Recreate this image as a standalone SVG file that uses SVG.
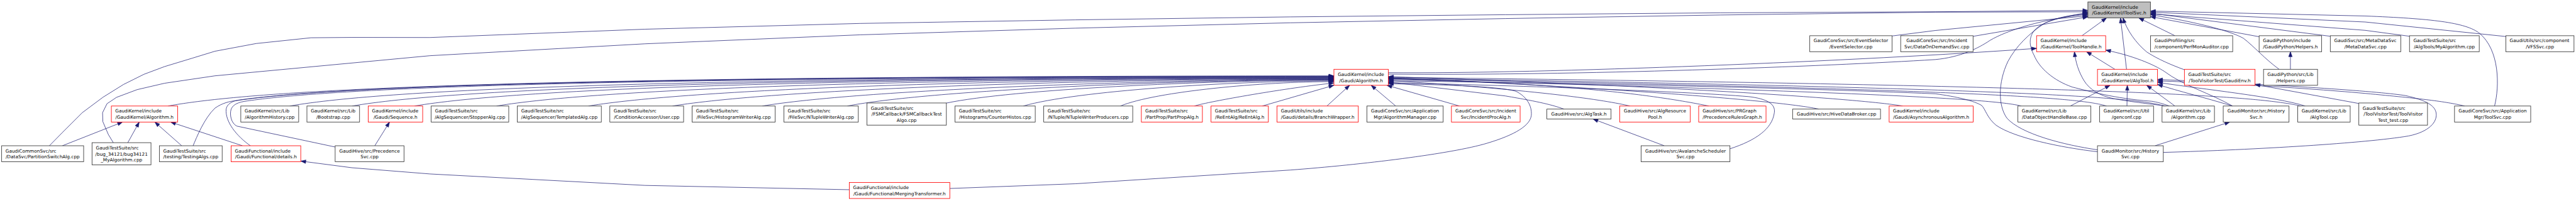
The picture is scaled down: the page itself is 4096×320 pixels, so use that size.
<svg xmlns="http://www.w3.org/2000/svg" width="4096" height="320" viewBox="0 0 4096 320">
<defs>
<style>
.e path{fill:none;stroke:#191970;stroke-width:1.3;stroke-linejoin:round;marker-end:url(#ah)}
.n rect{fill:#fff;stroke:#333;stroke-width:1.5}
.n.r rect{stroke:#f00}
.n.g rect{fill:#bfbfbf}
text{font-family:"DejaVu Sans","Liberation Sans",sans-serif;font-size:12.9px;fill:#000}
.m{text-anchor:middle}
</style>
<marker id="ah" markerUnits="userSpaceOnUse" markerWidth="15" markerHeight="11" refX="14" refY="5" orient="auto" overflow="visible">
<path d="M0,0 L14,5 L0,10 Z" fill="#191970" stroke="#191970" stroke-width="1"/>
</marker>
</defs>
<rect width="4096" height="320" fill="#fff"/>
<g transform="scale(0.56984)">
<g id="edges" class="e">
<path d="M174.1,407.2 L342,341"/>
<path d="M356.6,398.6 L388.5,341"/>
<path d="M507,407.2 L432,341"/>
<path d="M676.5,407.2 L476,341"/>
<path d="M137.8,407.2 L172.2,372.1 L229.6,314.8 L287,271.9 L344.4,236.1 L401.8,207.5 L459.2,186 L535.7,162.8 L600,143.1 L714.8,121.6 L867.9,105.5 L982.7,104.5 L1200,104.8 L1800,81.6 L2400,65.5 L3000,55.5 L3600,47.2 L4200,41.1 L4800,35.8 L5400,32.9 L5826,29"/>
<path d="M316.1,398.6 L302.3,375.7 L287,339.9 L286.2,314.8 L298.5,289.8 L325.3,271.9 L382.7,250.4 L459.2,232.6 L600,211.8 L1200,155.6 L1800,122.4 L2400,97.3 L3000,78.7 L3600,63.7 L4200,51.9 L4800,41.9 L5400,34 L5826,33"/>
<path d="M3874,207 C4400,212 5100,185 5400,166.4 C5470,160 5520,135 5553,112.7 C5600,85 5700,52 5826,40"/>
<path d="M3874,203 C4300,207 5200,170 5682.8,135.2"/>
<path d="M5279.5,100.5 L5400,85.2 L5826,44"/>
<path d="M5505.6,101.5 L5826,47"/>
<path d="M5809.4,99.8 L5878,50.1"/>
<path d="M5933.8,193.6 L5917,50.1"/>
<path d="M6095.7,195 C6060,182 6020,165 5990,145 C5960,120 5935,85 5924,50.1"/>
<path d="M6068.9,99.8 L5968,50.1"/>
<path d="M6304.2,102.7 L6000.5,46.5"/>
<path d="M6359.7,193.6 C6320,165 6290,130 6260,107 C6230,90 6150,65 6000.5,41"/>
<path d="M6502.4,101.3 L6000.5,37"/>
<path d="M6723.7,101.3 L6600,84.8 L6000.5,38.5"/>
<path d="M6992.2,102 L6600,61.5 L6000.5,34"/>
<path d="M6960.7,296.2 C6975,240 6975,140 6918.7,93 C6880,62 6780,52 6600,44.7 L6000.5,31"/>
<path d="M5852.7,418.6 C5760,405 5640,375 5600,330 C5575,295 5575,230 5602.8,171.7 C5625,130 5660,95 5706,64.4 C5740,48 5780,42 5826,38.5"/>
<path d="M6053.6,296.2 C6030,288 6010,283 6000,282.6 C5900,275 5830,255 5782.7,243.3 C5730,225 5690,190 5675.5,153.8 C5660,125 5662,100 5679.3,82.3 C5700,60 5760,45 5826,35.5"/>
<path d="M6045,296.2 C6010,292 5950,285 5897.5,275.5 C5860,268 5830,250 5815,225 C5800,200 5792,175 5788.4,144.5"/>
<path d="M6068.9,296.2 L5990,238.3"/>
<path d="M6040,296.2 C5950,270 5600,246 3874,218"/>
<path d="M5776.9,296.2 L5888,238.3"/>
<path d="M5640,296.2 C5580,280 5300,258 3874,222"/>
<path d="M5935,296.2 L5936,238.3"/>
<path d="M5878.3,296.2 C5800,272 5500,250 3874,220"/>
<path d="M6229.6,296.2 C6150,272 6080,255 6020.3,236"/>
<path d="M6432.5,296.2 C6350,270 6150,250 6020.3,230"/>
<path d="M6877.5,296.2 C6820,283 6760,276 6600,261 C6400,243 6150,230 6020.3,226"/>
<path d="M6036.4,425.8 C6300,418 6600,400 6720,380 C6780,368 6800,340 6798,318 C6796,295 6770,280 6712,267 C6650,257 6400,238 6020.3,222"/>
<path d="M5852.7,424 C5750,412 5620,385 5570,350 C5545,330 5540,305 5530,295 C5510,282 5460,270 5400,262 C5000,245 4400,232 3874,226"/>
<path d="M6013.4,407.2 L6222,341"/>
<path d="M6229.6,296.2 C6170,262 6090,238 6040,200 C6010,180 5950,155 5875.6,140"/>
<path d="M5901.3,193.6 L5822,144.5"/>
<path d="M6582,289.1 L6292.4,236"/>
<path d="M6391.1,193.6 L6391.1,144.5"/>
<path d="M4643.9,407.2 L4445,332.4"/>
<path d="M1045.8,407.2 L1087,341"/>
<path d="M2369.8,530 L1800,518 L1200,486 L982.7,468.7 L839.2,450"/>
<path d="M2650.3,526.6 L3000,513.4 L3600,475.1 C3800,460 4050,430 4150,400 C4230,376 4270,350 4273,322 C4275,295 4260,270 4230,255 C4180,240 4000,236 3874,234"/>
<path d="M4827.2,415.7 C4900,392 4945,360 4951,315 C4955,290 4930,276 4880,270 C4700,255 4200,238 3874,231"/>
<path d="M4072.6,296.2 L3870,238.3"/>
<path d="M3894.6,296.2 L3826,238.3"/>
<path d="M3702.6,296.2 L3766,238.3"/>
<path d="M4364.5,304.8 C4330,293 4300,285 4200,268 L3874,229"/>
<path d="M4548.2,296.2 C4480,280 4300,252 3874,225"/>
<path d="M4768.2,296.2 C4650,272 4400,232 3874,220"/>
<path d="M5075.5,304.8 C5010,290 4700,255 3874,217"/>
<path d="M5308.9,296.2 C5250,285 4900,250 3874,214"/>
<path d="M6420,296.2 C6300,268 5900,240 3874,216"/>
<path d="M468.8,296.2 C743.8,245.7 1568.8,212 3722,212"/>
<path d="M538.8,407.2 C548,385 570,330 600,302 C620,288 640,283 660,281 C935,240.2 1760,213 3722,213"/>
<path d="M698.7,407.2 C660,380 628,340 631,305 C633,290 650,281 670,279 C945,240 1770,214 3722,214"/>
<path d="M935.2,410.7 L661.2,352.4 C645,345 640,320 645,305 C650,292 665,285 690,282 C965,241.8 1790,215 3722,215"/>
<path d="M808.5,296.2 C1083.5,248.1 1908.5,216 3722,216"/>
<path d="M982.7,296.2 C1257.7,248.7 2082.7,217 3722,217"/>
<path d="M1156.8,296.2 C1431.8,249.3 2256.8,218 3722,218"/>
<path d="M1385.6,296.2 C1660.6,249.9 2485.6,219 3722,219"/>
<path d="M1642,296.2 C1917,250.5 2742,220 3722,220"/>
<path d="M1876.5,296.2 C2151.5,251.1 2976.5,221 3722,221"/>
<path d="M2127.2,296.2 C2393,251.7 3190.4,222 3722,222"/>
<path d="M2364.4,296.2 C2590.7,252.3 3269.6,223 3722,223"/>
<path d="M2640.7,288 C2821,250 3361.7,224 3722,224"/>
<path d="M2855.4,296.2 C2999.8,254.1 3433.2,226 3722,226"/>
<path d="M3126.3,296.2 C3225.6,255.3 3523.5,228 3722,228"/>
<path d="M3332.9,296.2 C3370,284 3600,244 3722,232"/>
<path d="M3522.3,296.2 L3722,238.3"/>
</g>
<g id="n_root" class="n g"><rect x="5826" y="5.4" width="174.5" height="44.7"/><text x="5836.8" y="23.95">GaudiKernel/include</text><text class="m" x="5913.25" y="41.15">/GaudiKernel/IToolSvc.h</text></g>
<g id="n_eventselector" class="n"><rect x="5049.9" y="99.8" width="229.6" height="44.7"/><text class="m" x="5164.7" y="118.35">GaudiCoreSvc/src/EventSelector</text><text class="m" x="5164.7" y="135.55">/EventSelector.cpp</text></g>
<g id="n_dataondemand" class="n"><rect x="5303.6" y="99.8" width="202" height="44.7"/><text class="m" x="5404.6" y="118.35">GaudiCoreSvc/src/Incident</text><text class="m" x="5404.6" y="135.55">Svc/DataOnDemandSvc.cpp</text></g>
<g id="n_toolhandle" class="n r"><rect x="5682.8" y="99.8" width="192.8" height="44.7"/><text x="5693.6" y="118.35">GaudiKernel/include</text><text class="m" x="5779.2" y="135.55">/GaudiKernel/ToolHandle.h</text></g>
<g id="n_perfmon" class="n"><rect x="6000.8" y="99.8" width="229.2" height="44.7"/><text x="6011.6" y="118.35">GaudiProfiling/src</text><text class="m" x="6115.4" y="135.55">/component/PerfMonAuditor.cpp</text></g>
<g id="n_helpers_h" class="n"><rect x="6303.8" y="99.8" width="174.5" height="44.7"/><text x="6314.6" y="118.35">GaudiPython/include</text><text class="m" x="6391.05" y="135.55">/GaudiPython/Helpers.h</text></g>
<g id="n_metadatasvc" class="n"><rect x="6502.4" y="99.8" width="196.6" height="44.7"/><text x="6513.2" y="118.35">GaudiSvc/src/MetaDataSvc</text><text class="m" x="6600.7" y="135.55">/MetaDataSvc.cpp</text></g>
<g id="n_myalgorithm" class="n"><rect x="6723.4" y="99.8" width="194.6" height="44.7"/><text x="6734.2" y="118.35">GaudiTestSuite/src</text><text class="m" x="6820.7" y="135.55">/AlgTools/MyAlgorithm.cpp</text></g>
<g id="n_vfssvc" class="n"><rect x="6992.2" y="99.8" width="190.2" height="44.7"/><text x="7003" y="118.35">GaudiUtils/src/component</text><text class="m" x="7087.3" y="135.55">/VFSSvc.cpp</text></g>
<g id="n_gaudi_algorithm_h" class="n r"><rect x="3722.1" y="193.6" width="151.9" height="44.7"/><text x="3732.9" y="212.15">GaudiKernel/include</text><text class="m" x="3798.05" y="229.35">/Gaudi/Algorithm.h</text></g>
<g id="n_algtool_h" class="n r"><rect x="5852.7" y="193.6" width="167.6" height="44.7"/><text x="5863.5" y="212.15">GaudiKernel/include</text><text class="m" x="5936.5" y="229.35">/GaudiKernel/AlgTool.h</text></g>
<g id="n_gaudienv" class="n r"><rect x="6095.3" y="193.6" width="197.1" height="44.7"/><text x="6106.1" y="212.15">GaudiTestSuite/src</text><text class="m" x="6193.85" y="229.35">/ToolVisitorTest/GaudiEnv.h</text></g>
<g id="n_helpers_cpp" class="n"><rect x="6316.1" y="193.6" width="150.7" height="44.7"/><text x="6326.9" y="212.15">GaudiPython/src/Lib</text><text class="m" x="6391.45" y="229.35">/Helpers.cpp</text></g>
<g id="n_gk_algorithm_h" class="n r"><rect x="310.7" y="296.2" width="184.9" height="44.8"/><text x="321.5" y="314.8">GaudiKernel/include</text><text class="m" x="403.15" y="332">/GaudiKernel/Algorithm.h</text></g>
<g id="n_alghistory" class="n"><rect x="671.9" y="296.2" width="161.5" height="44.8"/><text x="682.7" y="314.8">GaudiKernel/src/Lib</text><text class="m" x="752.65" y="332">/AlgorithmHistory.cpp</text></g>
<g id="n_bootstrap" class="n"><rect x="856.4" y="296.2" width="146.9" height="44.8"/><text x="867.2" y="314.8">GaudiKernel/src/Lib</text><text class="m" x="929.85" y="332">/Bootstrap.cpp</text></g>
<g id="n_sequence" class="n r"><rect x="1027.4" y="296.2" width="152" height="44.8"/><text x="1038.2" y="314.8">GaudiKernel/include</text><text class="m" x="1103.4" y="332">/Gaudi/Sequence.h</text></g>
<g id="n_stopperalg" class="n"><rect x="1203.1" y="296.2" width="216.5" height="44.8"/><text x="1213.9" y="314.8">GaudiTestSuite/src</text><text class="m" x="1311.35" y="332">/AlgSequencer/StopperAlg.cpp</text></g>
<g id="n_templatedalg" class="n"><rect x="1443.4" y="296.2" width="234.6" height="44.8"/><text x="1454.2" y="314.8">GaudiTestSuite/src</text><text class="m" x="1560.7" y="332">/AlgSequencer/TemplatedAlg.cpp</text></g>
<g id="n_user" class="n"><rect x="1701.7" y="296.2" width="205.8" height="44.8"/><text x="1712.5" y="314.8">GaudiTestSuite/src</text><text class="m" x="1804.6" y="332">/ConditionAccessor/User.cpp</text></g>
<g id="n_histowriter" class="n"><rect x="1931.3" y="296.2" width="231.8" height="44.8"/><text x="1942.1" y="314.8">GaudiTestSuite/src</text><text class="m" x="2047.2" y="332">/FileSvc/HistogramWriterAlg.cpp</text></g>
<g id="n_ntuplewriter" class="n"><rect x="2187.3" y="296.2" width="207.7" height="44.8"/><text x="2198.1" y="314.8">GaudiTestSuite/src</text><text class="m" x="2291.15" y="332">/FileSvc/NTupleWriterAlg.cpp</text></g>
<g id="n_fsmcallback" class="n"><rect x="2419.1" y="287.7" width="221.6" height="61.9"/><text x="2429.9" y="306.25">GaudiTestSuite/src</text><text class="m" x="2529.9" y="323.45">/FSMCallback/FSMCallbackTest</text><text class="m" x="2529.9" y="340.65">Algo.cpp</text></g>
<g id="n_counterhistos" class="n"><rect x="2664.8" y="296.2" width="223.9" height="44.8"/><text x="2675.6" y="314.8">GaudiTestSuite/src</text><text class="m" x="2776.75" y="332">/Histograms/CounterHistos.cpp</text></g>
<g id="n_ntupleproducers" class="n"><rect x="2912.4" y="296.2" width="248.3" height="44.8"/><text x="2923.2" y="314.8">GaudiTestSuite/src</text><text class="m" x="3036.55" y="332">/NTuple/NTupleWriterProducers.cpp</text></g>
<g id="n_partpropalg" class="n r"><rect x="3184.8" y="296.2" width="170.3" height="44.8"/><text x="3195.6" y="314.8">GaudiTestSuite/src</text><text class="m" x="3269.95" y="332">/PartProp/PartPropAlg.h</text></g>
<g id="n_reentalg" class="n r"><rect x="3379.2" y="296.2" width="160" height="44.8"/><text x="3390" y="314.8">GaudiTestSuite/src</text><text class="m" x="3459.2" y="332">/ReEntAlg/ReEntAlg.h</text></g>
<g id="n_branchwrapper" class="n r"><rect x="3563.3" y="296.2" width="226.9" height="44.8"/><text x="3574.1" y="314.8">GaudiUtils/include</text><text class="m" x="3676.75" y="332">/Gaudi/details/BranchWrapper.h</text></g>
<g id="n_algmanager" class="n"><rect x="3814.3" y="296.2" width="212.7" height="44.8"/><text class="m" x="3920.65" y="314.8">GaudiCoreSvc/src/Application</text><text class="m" x="3920.65" y="332">Mgr/AlgorithmManager.cpp</text></g>
<g id="n_incidentprocalg" class="n r"><rect x="4050" y="296.2" width="191.7" height="44.8"/><text class="m" x="4145.85" y="314.8">GaudiCoreSvc/src/Incident</text><text class="m" x="4145.85" y="332">Svc/IncidentProcAlg.h</text></g>
<g id="n_algtask" class="n"><rect x="4316.3" y="304.8" width="179.1" height="27.6"/><text class="m" x="4405.85" y="323.4">GaudiHive/src/AlgTask.h</text></g>
<g id="n_algresourcepool" class="n r"><rect x="4519.5" y="296.2" width="197.1" height="44.8"/><text class="m" x="4618.05" y="314.8">GaudiHive/src/AlgResource</text><text class="m" x="4618.05" y="332">Pool.h</text></g>
<g id="n_prgraph" class="n r"><rect x="4739.9" y="296.2" width="187.9" height="44.8"/><text x="4750.7" y="314.8">GaudiHive/src/PRGraph</text><text class="m" x="4833.85" y="332">/PrecedenceRulesGraph.h</text></g>
<g id="n_hivedatabroker" class="n"><rect x="5002" y="304.8" width="245.3" height="27.6"/><text class="m" x="5124.65" y="323.4">GaudiHive/src/HiveDataBroker.cpp</text></g>
<g id="n_asyncalg" class="n r"><rect x="5271.4" y="296.2" width="234.6" height="44.8"/><text x="5282.2" y="314.8">GaudiKernel/include</text><text class="m" x="5388.7" y="332">/Gaudi/AsynchronousAlgorithm.h</text></g>
<g id="n_dohandlebase" class="n"><rect x="5630.7" y="296.2" width="203.6" height="44.8"/><text x="5641.5" y="314.8">GaudiKernel/src/Lib</text><text class="m" x="5732.5" y="332">/DataObjectHandleBase.cpp</text></g>
<g id="n_genconf" class="n"><rect x="5858.8" y="296.2" width="150.4" height="44.8"/><text x="5869.6" y="314.8">GaudiKernel/src/Util</text><text class="m" x="5934" y="332">/genconf.cpp</text></g>
<g id="n_algorithm_cpp" class="n"><rect x="6032.9" y="296.2" width="146.2" height="44.8"/><text x="6043.7" y="314.8">GaudiKernel/src/Lib</text><text class="m" x="6106" y="332">/Algorithm.cpp</text></g>
<g id="n_historysvc_h" class="n"><rect x="6203.6" y="296.2" width="183.6" height="44.8"/><text class="m" x="6295.4" y="314.8">GaudiMonitor/src/History</text><text class="m" x="6295.4" y="332">Svc.h</text></g>
<g id="n_algtool_cpp" class="n"><rect x="6411.4" y="296.2" width="146.5" height="44.8"/><text x="6422.2" y="314.8">GaudiKernel/src/Lib</text><text class="m" x="6484.65" y="332">/AlgTool.cpp</text></g>
<g id="n_toolvisitortest" class="n"><rect x="6582" y="287.7" width="191.6" height="61.9"/><text x="6592.8" y="306.25">GaudiTestSuite/src</text><text class="m" x="6677.8" y="323.45">/ToolVisitorTest/ToolVisitor</text><text class="m" x="6677.8" y="340.65">Test_test.cpp</text></g>
<g id="n_toolsvc" class="n"><rect x="6849" y="296.2" width="212.6" height="44.8"/><text class="m" x="6955.3" y="314.8">GaudiCoreSvc/src/Application</text><text class="m" x="6955.3" y="332">Mgr/ToolSvc.cpp</text></g>
<g id="n_partitionswitch" class="n"><rect x="4.6" y="407.2" width="228.8" height="44.7"/><text x="15.4" y="425.75">GaudiCommonSvc/src</text><text class="m" x="119" y="442.95">/DataSvc/PartitionSwitchAlg.cpp</text></g>
<g id="n_bug34121" class="n"><rect x="256.8" y="398.6" width="164.5" height="61.9"/><text x="267.6" y="417.15">GaudiTestSuite/src</text><text class="m" x="339.05" y="434.35">/bug_34121/bug34121</text><text class="m" x="339.05" y="451.55">_MyAlgorithm.cpp</text></g>
<g id="n_testingalgs" class="n"><rect x="444.7" y="407.2" width="175.2" height="44.7"/><text x="455.5" y="425.75">GaudiTestSuite/src</text><text class="m" x="532.3" y="442.95">/testing/TestingAlgs.cpp</text></g>
<g id="n_details" class="n r"><rect x="644.8" y="407.2" width="194.4" height="44.7"/><text x="655.6" y="425.75">GaudiFunctional/include</text><text class="m" x="742" y="442.95">/Gaudi/Functional/details.h</text></g>
<g id="n_precedencesvc" class="n"><rect x="935.2" y="407.2" width="192.1" height="44.7"/><text class="m" x="1031.25" y="425.75">GaudiHive/src/Precedence</text><text class="m" x="1031.25" y="442.95">Svc.cpp</text></g>
<g id="n_avalanche" class="n"><rect x="4579.2" y="407.2" width="248" height="44.7"/><text class="m" x="4703.2" y="425.75">GaudiHive/src/AvalancheScheduler</text><text class="m" x="4703.2" y="442.95">Svc.cpp</text></g>
<g id="n_historysvc_cpp" class="n"><rect x="5852.7" y="407.2" width="183.7" height="44.7"/><text class="m" x="5944.55" y="425.75">GaudiMonitor/src/History</text><text class="m" x="5944.55" y="442.95">Svc.cpp</text></g>
<g id="n_merging" class="n r"><rect x="2369.8" y="509.8" width="280.5" height="44.8"/><text x="2380.6" y="528.4">GaudiFunctional/include</text><text class="m" x="2510.05" y="545.6">/Gaudi/Functional/MergingTransformer.h</text></g>
</g>
</svg>
